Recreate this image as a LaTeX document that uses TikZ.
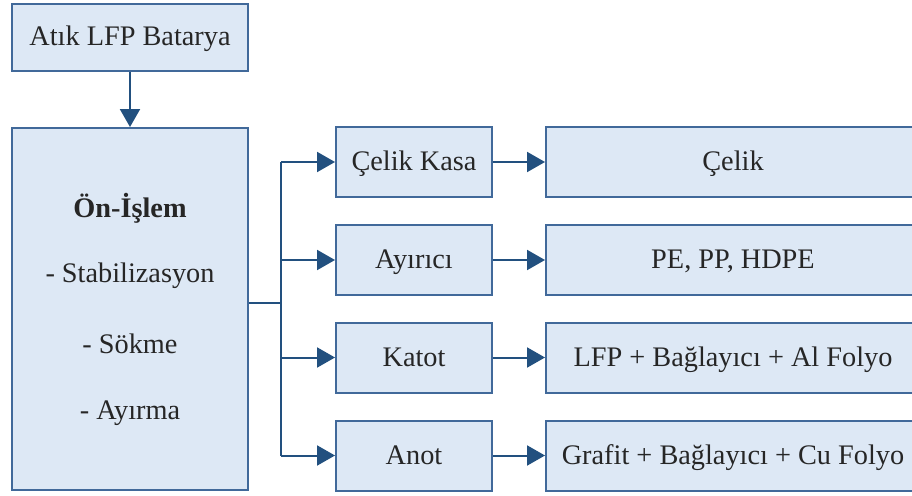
\documentclass[tikz,border=0pt]{standalone}
\usepackage{fontspec}
\setmainfont{LiberationSerif}[Extension=.ttf,UprightFont=*-Regular,BoldFont=*-Bold,ItalicFont=*-Italic,BoldItalicFont=*-BoldItalic]
\usetikzlibrary{arrows.meta}
\definecolor{boxfill}{HTML}{DDE8F5}
\definecolor{boxedge}{HTML}{41699A}
\definecolor{linec}{HTML}{22507F}
\begin{document}
\begin{tikzpicture}[x=1pt,y=-1pt,
  txt/.style={font=\fontsize{28.3}{31}\selectfont,text=black!85},
  box/.style={txt,draw=boxedge,fill=boxfill,line width=2pt,inner sep=0pt,
    text height=24pt,text depth=7pt},
  conn/.style={draw=linec,line width=2pt},
  arr/.style={conn,-{Triangle[length=18pt,width=20pt]}}]
\useasboundingbox (0,0) rectangle (912,495);
\fill[white] (0,0) rectangle (912,495);
% top box
\node[box,minimum width=236pt,minimum height=67pt] (atik) at (130,37.5) {Atık LFP Batarya};
% big box
\node[box,minimum width=236pt,minimum height=362pt] (on) at (130,309) {};
\node[txt,font=\fontsize{28.3}{31}\selectfont\bfseries] (t1) at (130,208) {Ön-İşlem};
\node[txt] (t2) at (130,276) {- Stabilizasyon};
\node[txt] (t3) at (130,344) {- Sökme};
\node[txt] (t4) at (130,413) {- Ayırma};
% middle boxes
\node[box,minimum width=156pt,minimum height=70pt] (ck) at (414,162) {Çelik Kasa};
\node[box,minimum width=156pt,minimum height=70pt] (ay) at (414,260) {Ayırıcı};
\node[box,minimum width=156pt,minimum height=70pt] (ka) at (414,357.5) {Katot};
\node[box,minimum width=156pt,minimum height=70pt] (an) at (414,455.5) {Anot};
% right boxes
\node[box,minimum width=374pt,minimum height=70pt] (r1) at (733,162) {Çelik};
\node[box,minimum width=374pt,minimum height=70pt] (r2) at (733,260) {PE, PP, HDPE};
\node[box,minimum width=374pt,minimum height=70pt] (r3) at (733,357.5) {LFP + Bağlayıcı + Al Folyo};
\node[box,minimum width=374pt,minimum height=70pt] (r4) at (733,455.5) {Grafit + Bağlayıcı + Cu Folyo};
% connectors
\draw[arr] (atik.south) -- (on.north);
\coordinate (j) at (281,303);
\draw[conn] (on.east |- j) -- (j);
\draw[conn] (j |- ck.west) -- (j |- an.west);
\draw[arr] (j |- ck.west) -- (ck.west);
\draw[arr] (j |- ay.west) -- (ay.west);
\draw[arr] (j |- ka.west) -- (ka.west);
\draw[arr] (j |- an.west) -- (an.west);
\draw[arr] (ck.east) -- (r1.west);
\draw[arr] (ay.east) -- (r2.west);
\draw[arr] (ka.east) -- (r3.west);
\draw[arr] (an.east) -- (r4.west);
\end{tikzpicture}
\end{document}
